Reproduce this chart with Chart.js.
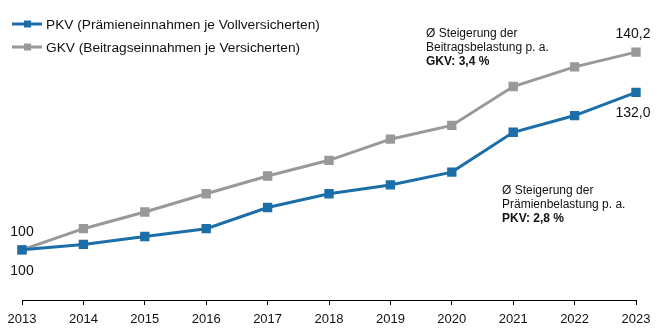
<!DOCTYPE html>
<html><head><meta charset="utf-8">
<script src="https://cdn.jsdelivr.net/npm/chart.js@4"></script>
<style>html,body{margin:0;padding:0;background:#fff}#w{width:661px;height:333px}</style>
</head><body><div id="w"><canvas id="c"></canvas></div>
<script>
const years = ['2013','2014','2015','2016','2017','2018','2019','2020','2021','2022','2023'];
const pkv = [100,101.1,102.7,104.3,108.6,111.4,113.2,115.8,123.9,127.3,132.0];
const gkv = [100,104.3,107.7,111.4,115.0,118.2,122.5,125.3,133.2,137.2,140.2];
const seriesLabels = ['PKV (Prämieneinnahmen je Vollversicherten)','GKV (Beitragseinnahmen je Versicherten)'];
const gkvNote = ['Ø Steigerung der','Beitragsbelastung p. a.','GKV: 3,4 %'];
const pkvNote = ['Ø Steigerung der','Prämienbelastung p. a.','PKV: 2,8 %'];
const startLabel = '100';
const endLabels = ['132,0','140,2'];

const BLUE = '#1b6ea8', GRAY = '#999999';
const FONT = '"Liberation Sans", Arial, sans-serif';

const overlay = {
  id:'overlay',
  afterDraw(chart){
    const ctx = chart.ctx;
    ctx.save();
    const cols=[BLUE,GRAY]; const ys=[24,47];
    for(let i=0;i<2;i++){
      const y=ys[i];
      ctx.strokeStyle=cols[i]; ctx.lineWidth=3;
      ctx.beginPath(); ctx.moveTo(12,y); ctx.lineTo(42,y); ctx.stroke();
      ctx.fillStyle=cols[i]; ctx.fillRect(24,y-3.5,7,7);
      ctx.fillStyle='#111'; ctx.font='13.7px '+FONT; ctx.textBaseline='middle'; ctx.textAlign='left';
      ctx.fillText(seriesLabels[i],46,y+1);
    }
    ctx.fillStyle='#111';
    const note=(lines,x,y0)=>{
      lines.forEach((t,k)=>{
        ctx.font=(k===2?'bold ':'')+'12px '+FONT;
        ctx.fillText(t,x,y0+k*14);
      });
    };
    note(gkvNote,426,34);
    note(pkvNote,502,191);
    const m0=chart.getDatasetMeta(0).data, m1=chart.getDatasetMeta(1).data;
    ctx.font='14px '+FONT; ctx.textAlign='center';
    const pl=m0[m0.length-1], gl=m1[m1.length-1];
    ctx.fillText(endLabels[1],gl.x-3,gl.y-18);
    ctx.fillText(endLabels[0],pl.x-3,pl.y+21);
    const f=m0[0];
    ctx.fillText(startLabel,f.x,f.y-18);
    ctx.fillText(startLabel,f.x,f.y+21);
    ctx.restore();
  }
};

new Chart(document.getElementById('c'),{
  type:'line',
  data:{labels:years,datasets:[
    {label:seriesLabels[0],data:pkv,borderColor:BLUE,backgroundColor:BLUE,borderWidth:3,pointStyle:'rect',pointRadius:4.5,pointHoverRadius:4.5,tension:0},
    {label:seriesLabels[1],data:gkv,borderColor:GRAY,backgroundColor:GRAY,borderWidth:3,pointStyle:'rect',pointRadius:4.5,pointHoverRadius:4.5,tension:0}
  ]},
  options:{
    responsive:true,maintainAspectRatio:false,animation:false,
    layout:{padding:{left:22,right:25,top:28.5,bottom:0}},
    plugins:{legend:{display:false},tooltip:{enabled:false}},
    scales:{
      x:{type:'category',offset:false,
        grid:{drawOnChartArea:false,drawTicks:true,tickLength:5,color:'#000',lineWidth:1},
        border:{display:true,color:'#000',width:1},
        ticks:{color:'#111',font:{family:FONT,size:13},padding:7,maxRotation:0,autoSkip:false},
        afterFit(s){s.height=33;}
      },
      y:{display:false,min:89.8,max:145}
    }
  },
  plugins:[overlay]
});
</script></body></html>
